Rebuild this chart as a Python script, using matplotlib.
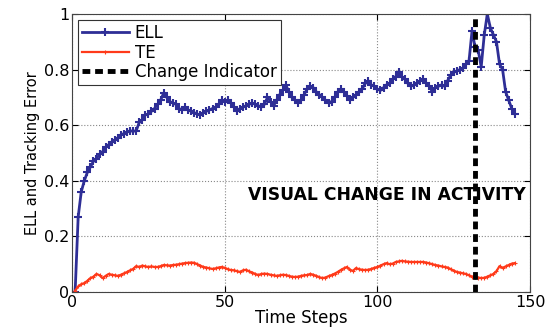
import numpy as np
import matplotlib
matplotlib.use("Agg")
import matplotlib.pyplot as plt

plt.rcParams['font.family'] = ['DejaVu Sans']

# Donnees
temps = list(range(1, 146))

ell = [0.0, 0.27, 0.36, 0.40, 0.43, 0.45, 0.47, 0.48, 0.495, 0.505,
       0.52, 0.53, 0.54, 0.547, 0.555, 0.565, 0.57, 0.575, 0.58, 0.578,
       0.58, 0.61, 0.62, 0.637, 0.64, 0.65, 0.66, 0.675, 0.69, 0.716,
       0.70, 0.685, 0.68, 0.675, 0.66, 0.655, 0.665, 0.655, 0.65, 0.645,
       0.64, 0.637, 0.645, 0.65, 0.655, 0.66, 0.665, 0.675, 0.69, 0.685,
       0.69, 0.68, 0.665, 0.65, 0.66, 0.665, 0.67, 0.675, 0.68, 0.675,
       0.67, 0.665, 0.675, 0.70, 0.685, 0.67, 0.69, 0.71, 0.725, 0.745,
       0.72, 0.70, 0.69, 0.68, 0.69, 0.71, 0.73, 0.74, 0.735, 0.72,
       0.71, 0.70, 0.69, 0.68, 0.685, 0.70, 0.72, 0.73, 0.72, 0.705,
       0.69, 0.70, 0.71, 0.72, 0.73, 0.75, 0.76, 0.745, 0.74, 0.73,
       0.725, 0.735, 0.745, 0.75, 0.765, 0.775, 0.79, 0.775, 0.765, 0.75,
       0.74, 0.745, 0.75, 0.76, 0.765, 0.75, 0.74, 0.72, 0.735, 0.74,
       0.745, 0.74, 0.76, 0.78, 0.79, 0.795, 0.80, 0.805, 0.82, 0.83,
       0.94, 0.88, 0.87, 0.81, 0.925, 1.0, 0.95, 0.925, 0.90, 0.82,
       0.80, 0.72, 0.69, 0.66, 0.64]

te = [0.005, 0.02, 0.028, 0.032, 0.04, 0.05, 0.055, 0.065, 0.06, 0.05,
      0.058, 0.065, 0.062, 0.06, 0.058, 0.062, 0.067, 0.072, 0.078, 0.083,
      0.093, 0.09, 0.095, 0.092, 0.09, 0.092, 0.09, 0.09, 0.093, 0.097,
      0.096, 0.095, 0.097, 0.098, 0.1, 0.102, 0.104, 0.105, 0.106, 0.105,
      0.1, 0.095, 0.09, 0.088, 0.085, 0.083, 0.085, 0.088, 0.09, 0.087,
      0.082, 0.079, 0.078, 0.075, 0.072, 0.078, 0.08, 0.074, 0.07, 0.065,
      0.061, 0.065, 0.066, 0.065, 0.062, 0.06, 0.058, 0.06, 0.062, 0.061,
      0.058, 0.055, 0.054, 0.055, 0.058, 0.06, 0.061, 0.065, 0.062, 0.058,
      0.053, 0.05, 0.052, 0.057, 0.061, 0.066, 0.072, 0.079, 0.085, 0.09,
      0.08, 0.076, 0.086, 0.082, 0.08, 0.079, 0.08, 0.083, 0.087, 0.09,
      0.095, 0.1, 0.104, 0.1, 0.102, 0.108, 0.11, 0.112, 0.11, 0.109,
      0.108, 0.108, 0.108, 0.108, 0.108, 0.106, 0.103, 0.1, 0.097, 0.095,
      0.092, 0.09, 0.088, 0.082, 0.077, 0.072, 0.07, 0.067, 0.065, 0.06,
      0.055, 0.054, 0.052, 0.05, 0.051, 0.055, 0.06, 0.065, 0.075, 0.093,
      0.086, 0.092, 0.097, 0.102, 0.104]

changement = 132
xticks = [0, 50, 100, 150]
yticks = [0, 0.2, 0.4, 0.6, 0.8, 1]
ylabels = ['0', '0.2', '0.4', '0.6', '0.8', '1']

fig = plt.figure(figsize=(5.46, 3.29), dpi=100)
ax = fig.add_axes([0.132, 0.1125, 0.8388, 0.845])

ax.plot(temps, ell, color='#2e2e96', lw=2, marker='+', ms=6, mew=1.5, label='ELL')
ax.plot(temps, te, color='#ff3a1a', lw=1.6, marker='+', ms=2.5, mew=0.8, label='TE')
ax.plot([changement, changement], [0, 1], color='black', lw=3.5, ls=(0, (1.6, 1.0)),
        label='Change Indicator')

ax.text(57.5, 0.35, 'VISUAL CHANGE IN ACTIVITY', fontsize=12.3, fontweight='bold',
        va='center', ha='left')

ax.set_xlim(0, 150)
ax.set_ylim(0, 1)
ax.set_xticks(xticks)
ax.set_yticks(yticks)
ax.set_yticklabels(ylabels)
ax.tick_params(direction='in', top=True, right=True, labelsize=11.5, length=4, pad=2)
ax.grid(True, ls=':', color='#888888', lw=0.8)
ax.set_xlabel('Time Steps', fontsize=12, labelpad=-0.5)
ax.set_ylabel('ELL and Tracking Error', fontsize=10.5, labelpad=3)
for s in ax.spines.values():
    s.set_color('#444444')

leg = ax.legend(loc='upper left', fontsize=12, fancybox=False, framealpha=1,
                edgecolor='#333333', borderaxespad=0.35, handlelength=2.8,
                handletextpad=0.35, labelspacing=0.1, borderpad=0.25)
leg.get_frame().set_linewidth(0.8)

plt.savefig('out.png', dpi=100)
